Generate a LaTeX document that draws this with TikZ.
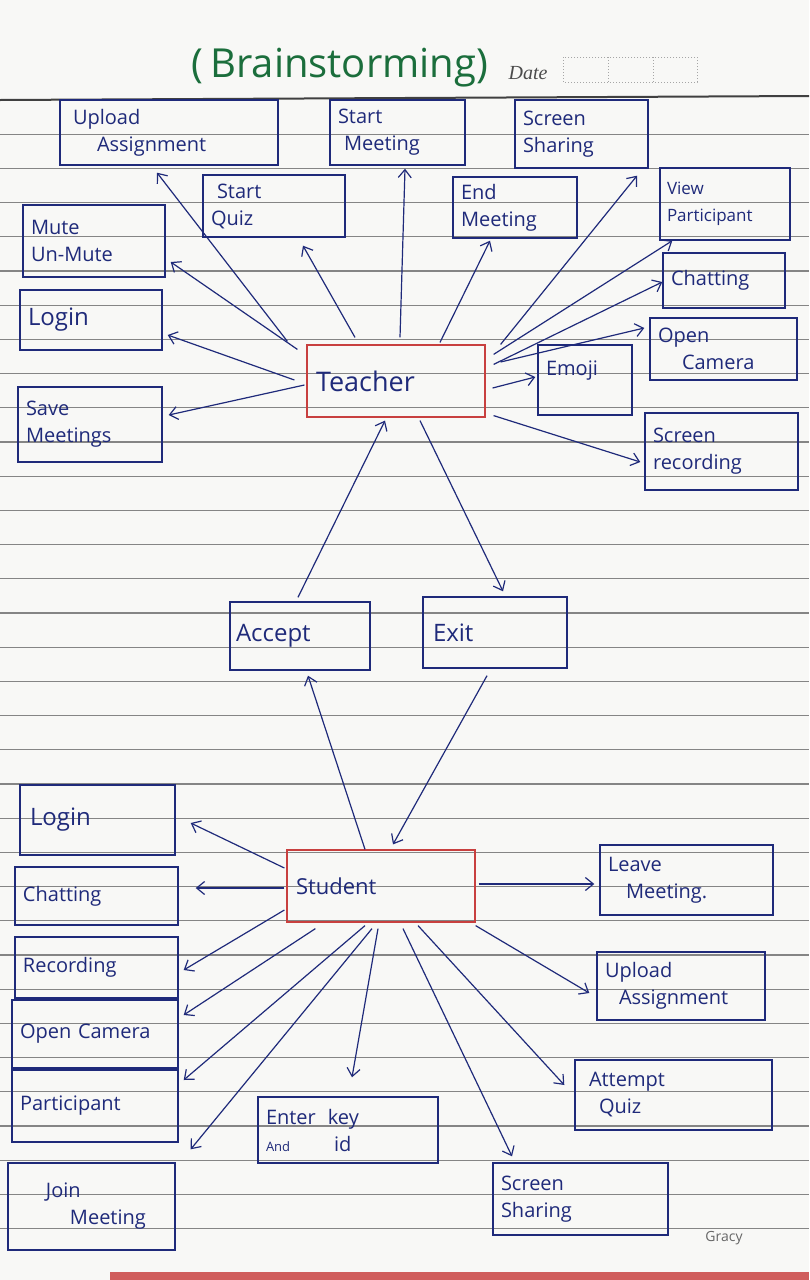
\documentclass[tikz,border=0pt]{standalone}
\usepackage{fontspec}
\setmainfont{Open Sans}
\newfontfamily\datefont{Liberation Serif}
\usetikzlibrary{arrows.meta}
\definecolor{ink}{HTML}{1F2A7A}
\definecolor{rulegray}{HTML}{858585}
\definecolor{redink}{HTML}{C8403F}
\definecolor{titlegreen}{HTML}{1B6E3C}
\definecolor{paper}{HTML}{F8F8F6}
\begin{document}
\begin{tikzpicture}[x=1pt,y=-1pt,
  box/.style={draw=ink, line width=1.4pt, text=ink, align=left, font=\fontsize{20}{27}\selectfont, inner xsep=8pt, inner ysep=4pt},
  hub/.style={box, draw=redink, line width=1.2pt},
  arr/.style={draw=ink, line width=1.2pt, -{Straight Barb[length=8pt,width=13pt]}},
]
\useasboundingbox (0,0) rectangle (809,1280);
\fill[paper] (0,0) rectangle (809,1280);
\foreach \k in {1,...,33} \draw[rulegray, line width=1.2pt] (0,{100+34.2*\k}) -- (809,{100+34.2*\k});
\draw[black!75, line width=2pt] (0,100) -- (809,96);
\fill[redink!85] (110,1272) rectangle (809,1280);

% title
\node[text=titlegreen, font=\fontsize{40}{42}\selectfont] (title) at (340,68) {(\,Brainstorming)};
\node[text=black!70, font=\datefont\itshape\fontsize{20}{20}\selectfont] (date) at (528,73) {Date};
\draw[black!35, dotted, line width=1pt] (563,57) rectangle (697,82) (608,57) -- (608,82) (653,57) -- (653,82);

% teacher side
\node[hub, minimum width=178, minimum height=72, text width=160, font=\fontsize{27}{30}\selectfont] (T) at (396,381) {Teacher};
\node[box, minimum width=218, minimum height=65, text width=200] (upA) at (169,132.5) {\hspace*{4pt}Upload\\\hspace*{28pt}Assignment};
\node[box, minimum width=135, minimum height=65, text width=119] (startM) at (397.5,132.5) {Start\\\hspace*{6pt}Meeting};
\node[box, minimum width=133, minimum height=68, text width=117] (scS) at (581.5,134) {Screen\\Sharing};
\node[box, minimum width=142, minimum height=62, text width=126] (quiz) at (274,206) {\hspace*{6pt}Start\\Quiz};
\node[box, minimum width=124, minimum height=61, text width=108] (endM) at (515,207.5) {End\\Meeting};
\node[box, minimum width=142, minimum height=72, text width=126] (mute) at (94,241) {Mute\\Un-Mute};
\node[box, minimum width=130, minimum height=72, text width=116, inner xsep=7pt, font=\fontsize{17}{27}\selectfont] (view) at (725,204) {View\\Participant};
\node[box, minimum width=122, minimum height=55, text width=106] (chat) at (724,280.5) {Chatting};
\node[box, minimum width=142, minimum height=60, text width=126, font=\fontsize{24}{27}\selectfont] (login) at (91,320) {Login};
\node[box, minimum width=147, minimum height=62, text width=131] (openC) at (723.5,349) {Open\\\hspace*{24pt}Camera};
\node[box, minimum width=94, minimum height=70, text width=78] (emoji) at (585,380) {Emoji\\[-4pt]\mbox{}};
\node[box, minimum width=144, minimum height=75, text width=128] (save) at (90,424.5) {Save\\Meetings};
\node[box, minimum width=153, minimum height=77, text width=137] (rec) at (721.5,451.5) {Screen\\recording};

% middle
\node[box, minimum width=140, minimum height=68, text width=128, inner xsep=6pt, font=\fontsize{24}{27}\selectfont] (A) at (300,636) {Accept};
\node[box, minimum width=144, minimum height=71, text width=124, inner xsep=10pt, font=\fontsize{24}{27}\selectfont] (E) at (495,632.5) {Exit};

% student side
\node[hub, minimum width=188, minimum height=72, text width=170, font=\fontsize{22}{27}\selectfont] (S) at (381,886) {Student};
\node[box, minimum width=155, minimum height=70, text width=135, inner xsep=10pt, font=\fontsize{24}{27}\selectfont] (sLogin) at (97.5,820) {Login};
\node[box, minimum width=163, minimum height=58, text width=147] (sChat) at (96.5,896) {Chatting};
\node[box, minimum width=163, minimum height=61, text width=147] (sRec) at (96.5,967.5) {Recording};
\node[box, minimum width=166, minimum height=68, text width=150] (sCam) at (95,1034) {Open Camera};
\node[box, minimum width=166, minimum height=72, text width=150] (sPart) at (95,1106) {Participant};
\node[box, minimum width=167, minimum height=87, text width=151] (sJoin) at (91.5,1206.5) {\hspace*{30pt}Join\\\hspace*{54pt}Meeting};
\node[box, minimum width=180, minimum height=66, text width=164] (sKey) at (348,1130) {Enter\hspace*{12pt}key\\{\fontsize{13}{13}\selectfont And}\hspace*{44pt}id};
\node[box, minimum width=175, minimum height=72, text width=159] (sScr) at (580.5,1199) {Screen\\Sharing};
\node[box, minimum width=173, minimum height=70, text width=157] (sLeave) at (686.5,880) {Leave\\\hspace*{18pt}Meeting.};
\node[box, minimum width=168, minimum height=68, text width=152] (sUp) at (681,986) {Upload\\\hspace*{14pt}Assignment};
\node[box, minimum width=197, minimum height=70, text width=181] (sQuiz) at (673.5,1095) {\hspace*{6pt}Attempt\\\hspace*{16pt}Quiz};

\node[text=black!60, font=\fontsize{14}{14}\selectfont] (gracy) at (724,1238) {Gracy};

% teacher arrows
\draw[arr] ([xshift=-19pt,yshift=3pt]T.north west) -- ([xshift=-12pt,yshift=-7pt]upA.south);
\draw[arr] ([xshift=-9pt,yshift=-5pt]T.north west) -- ([xshift=5pt,yshift=-21pt]mute.east);
\draw[arr] ([xshift=-12pt,yshift=1pt]T.west) -- ([xshift=5pt,yshift=-15pt]login.east);
\draw[arr] ([xshift=-2pt,yshift=-4pt]T.west) -- ([xshift=6pt,yshift=9.5pt]save.east);
\draw[arr] ([xshift=-41pt,yshift=7pt]T.north) -- ([xshift=29pt,yshift=-8pt]quiz.south);
\draw[arr] ([xshift=4pt,yshift=7pt]T.north) -- ([xshift=7.5pt,yshift=-3pt]startM.south);
\draw[arr] ([xshift=44pt,yshift=2pt]T.north) -- ([xshift=-25pt,yshift=-2pt]endM.south);
\draw[arr] ([xshift=15pt]T.north east) -- ([xshift=55.5pt,yshift=-7pt]scS.south);
\draw[arr] ([xshift=8pt,yshift=-10pt]T.north east) -- ([xshift=13pt]view.south west);
\draw[arr] ([xshift=8pt,yshift=-20pt]T.north east) -- ([yshift=-1.5pt]chat.west);
\draw[arr] ([xshift=15pt,yshift=19pt]T.east) -- ([xshift=-5pt,yshift=21pt]openC.west);
\draw[arr] ([xshift=7pt,yshift=-7pt]T.east) -- ([xshift=-2pt,yshift=3pt]emoji.west);
\draw[arr] ([xshift=8pt,yshift=2pt]T.south east) -- ([xshift=-4pt,yshift=-10.5pt]rec.west);

% middle arrows
\draw[arr] ([xshift=-2pt,yshift=4pt]A.north) -- ([xshift=-11pt,yshift=-3pt]T.south);
\draw[arr] ([xshift=24pt,yshift=-3pt]T.south) -- ([xshift=8pt,yshift=5pt]E.north);
\draw[arr] ([xshift=-16pt]S.north) -- ([xshift=8pt,yshift=-5pt]A.south);
\draw[arr] ([xshift=-8pt,yshift=-7pt]E.south) -- ([xshift=12pt,yshift=5pt]S.north);

% student arrows
\draw[arr] ([xshift=-2pt,yshift=18pt]S.west) -- ([xshift=15pt,yshift=-3pt]sLogin.east);
\draw[arr] ([xshift=-2pt,yshift=-2pt]S.west) -- ([xshift=17pt,yshift=8pt]sChat.east);
\draw[arr] ([xshift=-2pt,yshift=-24pt]S.west) -- ([xshift=5pt,yshift=-2.5pt]sRec.east);
\draw[arr] ([xshift=29pt,yshift=-6pt]S.south west) -- ([xshift=5pt,yshift=19pt]sCam.east);
\draw[arr] ([xshift=-16pt,yshift=-3pt]S.south) -- ([xshift=5pt,yshift=26pt]sPart.east);
\draw[arr] ([xshift=-9pt,yshift=-6pt]S.south) -- ([xshift=15pt,yshift=13pt]sJoin.north east);
\draw[arr] ([xshift=-3pt,yshift=-6pt]S.south) -- ([xshift=4pt,yshift=19pt]sKey.north);
\draw[arr] ([xshift=22pt,yshift=-6pt]S.south) -- ([xshift=-68.5pt,yshift=6pt]sScr.north);
\draw[arr] ([xshift=37pt,yshift=-3pt]S.south) -- ([xshift=-10pt,yshift=10pt]sQuiz.west);
\draw[arr] ([yshift=-3pt]S.south east) -- ([xshift=-7pt,yshift=-7pt]sUp.west);
\draw[arr] ([xshift=3pt,yshift=2pt]S.east) -- ([xshift=-5pt,yshift=-4pt]sLeave.west);
\end{tikzpicture}
\end{document}
